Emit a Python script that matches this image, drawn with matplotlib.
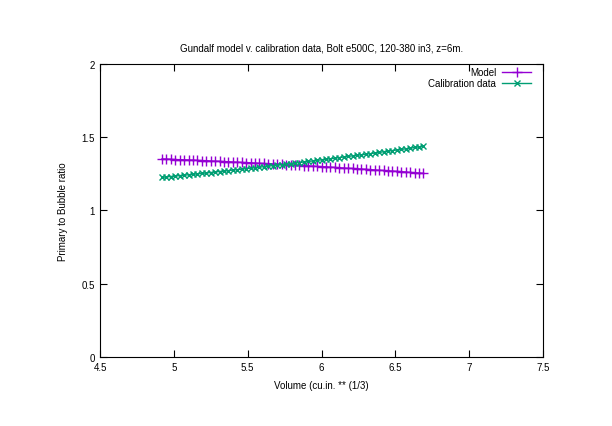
import matplotlib
matplotlib.use("Agg")
import matplotlib.pyplot as plt

# cube root of volume
vol_root = [4.92, 4.95, 4.98, 5.01, 5.04, 5.07, 5.10, 5.13, 5.16, 5.19,
            5.22, 5.25, 5.28, 5.31, 5.34, 5.37, 5.40, 5.43, 5.46, 5.49,
            5.52, 5.55, 5.58, 5.61, 5.64, 5.67, 5.70, 5.73, 5.76, 5.79,
            5.82, 5.85, 5.88, 5.91, 5.94, 5.97, 6.00, 6.03, 6.06, 6.09,
            6.12, 6.15, 6.18, 6.21, 6.24, 6.27, 6.30, 6.33, 6.36, 6.39,
            6.42, 6.45, 6.48, 6.51, 6.54, 6.57, 6.60, 6.63, 6.66, 6.69]

model = [1.352, 1.351, 1.350, 1.348, 1.347, 1.346, 1.345, 1.344, 1.342, 1.341,
         1.340, 1.338, 1.337, 1.336, 1.334, 1.333, 1.331, 1.330, 1.328, 1.327,
         1.326, 1.324, 1.322, 1.321, 1.319, 1.318, 1.316, 1.315, 1.313, 1.311,
         1.310, 1.308, 1.306, 1.305, 1.303, 1.301, 1.299, 1.298, 1.296, 1.294,
         1.292, 1.290, 1.288, 1.287, 1.285, 1.283, 1.281, 1.279, 1.277, 1.275,
         1.273, 1.271, 1.269, 1.267, 1.265, 1.263, 1.260, 1.258, 1.256, 1.254]

calib = [1.226, 1.229, 1.232, 1.235, 1.238, 1.241, 1.244, 1.247, 1.250, 1.253,
         1.256, 1.259, 1.263, 1.266, 1.269, 1.272, 1.276, 1.279, 1.282, 1.286,
         1.289, 1.292, 1.296, 1.299, 1.303, 1.306, 1.310, 1.313, 1.317, 1.320,
         1.324, 1.327, 1.331, 1.335, 1.338, 1.342, 1.346, 1.350, 1.353, 1.357,
         1.361, 1.365, 1.369, 1.373, 1.377, 1.380, 1.384, 1.388, 1.392, 1.396,
         1.401, 1.405, 1.409, 1.413, 1.417, 1.421, 1.425, 1.430, 1.434, 1.438]

xticks = [4.5, 5, 5.5, 6, 6.5, 7, 7.5]
yticks = [0, 0.5, 1, 1.5, 2]

plt.rcParams['font.family'] = ['Liberation Sans', 'DejaVu Sans']
plt.rcParams['font.size'] = 7

fig = plt.figure(figsize=(6.12, 4.27), dpi=100)
ax = fig.add_axes([0.1634, 0.1616, 0.7239, 0.6862])

ax.plot(vol_root, model, color='#9400d3', lw=1, marker='+', ms=7, mew=1,
        label='Model')
ax.plot(vol_root, calib, color='#009e73', lw=1, marker='x', ms=4, mew=1,
        label='Calibration data')

ax.set_xlim(4.5, 7.5)
ax.set_ylim(0, 2)
ax.set_xticks(xticks)
ax.set_xticklabels(['4.5', '5', '5.5', '6', '6.5', '7', '7.5'])
ax.set_yticks(yticks)
ax.set_yticklabels(['0', '0.5', '1', '1.5', '2'])
ax.tick_params(direction='in', top=True, right=True, length=5, width=0.8)
for s in ax.spines.values():
    s.set_linewidth(0.8)

ax.set_title('Gundalf model v. calibration data, Bolt e500C, 120-380 in3, z=6m.',
             fontsize=7, pad=10)
ax.set_xlabel('Volume (cu.in. ** (1/3)', labelpad=6)
ax.set_ylabel('Primary to Bubble ratio', labelpad=10)

ax.legend(loc='upper right', bbox_to_anchor=(0.982, 1.003), frameon=False,
          markerfirst=False, numpoints=1, handlelength=3.0, borderaxespad=0,
          labelspacing=0.1, handletextpad=0.6)

fig.savefig('out.png', dpi=100)
